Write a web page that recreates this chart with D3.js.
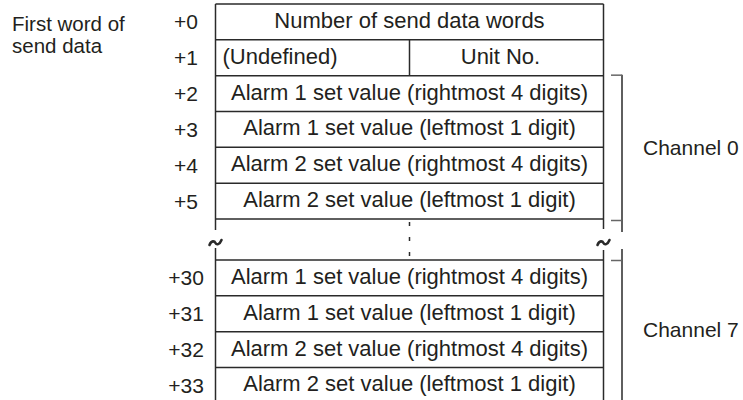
<!DOCTYPE html>
<html>
<head>
<meta charset="utf-8">
<script src="https://cdn.jsdelivr.net/npm/d3@7"></script>
<style>
  html, body { margin: 0; padding: 0; background: #fff; }
  svg { display: block; }
  text { font-family: "Liberation Sans", Arial, Helvetica, sans-serif; font-size: 21px; fill: #231f20; }
  text.cell { font-size: 22px; }
</style>
</head>
<body>
<svg id="chart" width="743" height="400"></svg>
<script>
// ---- data ----
const firstWordLabel = ["First word of", "send data"];
const offsetsTop = ["+0", "+1", "+2", "+3", "+4", "+5"];
const offsetsBottom = ["+30", "+31", "+32", "+33"];
const headerText = "Number of send data words";
const undefinedText = "(Undefined)";
const unitText = "Unit No.";
const channelRows = [
  "Alarm 1 set value (rightmost 4 digits)",
  "Alarm 1 set value (leftmost 1 digit)",
  "Alarm 2 set value (rightmost 4 digits)",
  "Alarm 2 set value (leftmost 1 digit)"
];
const channels = ["Channel 0", "Channel 7"];

// ---- layout ----
const svg = d3.select("#chart");
const stroke = "#2a2a2a";
const sw = 1.5;

const x = d3.scaleLinear().domain([0, 1]).range([215.5, 603.5]);
const yTop = d3.scaleLinear().domain([0, offsetsTop.length]).range([4, 219]);
const yBot = d3.scaleLinear().domain([0, offsetsBottom.length]).range([260, 403.3]);
const rowH = yTop(1) - yTop(0);
const labelX = 186;
const midX = x(0.5);
const baseOff = 7.5;

function line(x1, y1, x2, y2, opts) {
  const l = svg.append("line")
    .attr("x1", x1).attr("y1", y1).attr("x2", x2).attr("y2", y2)
    .attr("stroke", (opts && opts.color) || stroke)
    .attr("stroke-width", (opts && opts.width) || sw);
  if (opts && opts.dash) l.attr("stroke-dasharray", opts.dash);
  return l;
}

// first word label
svg.selectAll("text.first").data(firstWordLabel).join("text")
  .attr("class", "first")
  .attr("x", 12).attr("y", (d, i) => 31 + i * 22)
  .style("font-size", "20.5px").text(d => d);

// top group rows
const topCells = [headerText, null].concat(channelRows);
d3.range(offsetsTop.length + 1).forEach(i => line(x(0), yTop(i), x(1), yTop(i)));
line(x(0), yTop(0), x(0), 230);
line(x(1), yTop(0), x(1), 229);
line(midX, yTop(1), midX, yTop(2));

svg.selectAll("text.offTop").data(offsetsTop).join("text")
  .attr("class", "offTop")
  .attr("x", labelX).attr("y", (d, i) => yTop(i) + rowH / 2 + baseOff)
  .attr("text-anchor", "middle").text(d => d);

svg.selectAll("text.cellTop").data(topCells.map((t, i) => ({t, i})).filter(d => d.t)).join("text")
  .attr("class", "cell cellTop")
  .attr("x", midX).attr("y", d => yTop(d.i) + rowH / 2 + baseOff - 1.5)
  .attr("text-anchor", "middle").text(d => d.t);

svg.append("text").attr("class", "cell").attr("x", x(0) + 7).attr("y", yTop(1) + rowH / 2 + baseOff - 1.5).text(undefinedText);
svg.append("text").attr("class", "cell").attr("x", (midX + x(1)) / 2 - 6).attr("y", yTop(1) + rowH / 2 + baseOff - 1.5)
  .attr("text-anchor", "middle").text(unitText);

// break: dashed middle line and tildes
line(midX, 222, midX, 259, {dash: "4,11"});
function tilde(cx, cy) {
  svg.append("path")
    .attr("d", `M${cx - 6},${cy + 2} C${cx - 4},${cy - 3} ${cx - 1},${cy - 2} ${cx},${cy} S${cx + 4},${cy + 2} ${cx + 6},${cy - 3}`)
    .attr("fill", "none").attr("stroke", stroke).attr("stroke-width", 2.6)
    .attr("stroke-linecap", "round");
}
tilde(x(0), 243);
tilde(x(1), 243);

// bottom group rows
d3.range(offsetsBottom.length + 1).forEach(i => line(x(0), yBot(i), x(1), yBot(i)));
line(x(0), 248, x(0), 400);
line(x(1), 250, x(1), 400);

svg.selectAll("text.offBot").data(offsetsBottom).join("text")
  .attr("class", "offBot")
  .attr("x", labelX).attr("y", (d, i) => yBot(i) + rowH / 2 + baseOff)
  .attr("text-anchor", "middle").text(d => d);

svg.selectAll("text.cellBot").data(channelRows).join("text")
  .attr("class", "cell cellBot")
  .attr("x", midX).attr("y", (d, i) => yBot(i) + rowH / 2 + baseOff - 1.5)
  .attr("text-anchor", "middle").text(d => d);

// brackets
const bx = 622, tx = 611;
const tickColor = "#666";
line(bx, yTop(2) - 1, bx, 232);
line(tx, yTop(2) - 0.5, bx, yTop(2) - 0.5, {color: tickColor});
line(tx, 220.5, bx, 220.5, {color: tickColor});
line(bx, 249, bx, 400);
line(tx, yBot(0) + 0.5, bx, yBot(0) + 0.5, {color: tickColor});

svg.append("text").attr("x", 643).attr("y", (yTop(2) + 220) / 2 + baseOff).text(channels[0]);
svg.append("text").attr("x", 643).attr("y", (yBot(0) + 400) / 2 + baseOff - 1).text(channels[1]);
</script>
</body>
</html>
